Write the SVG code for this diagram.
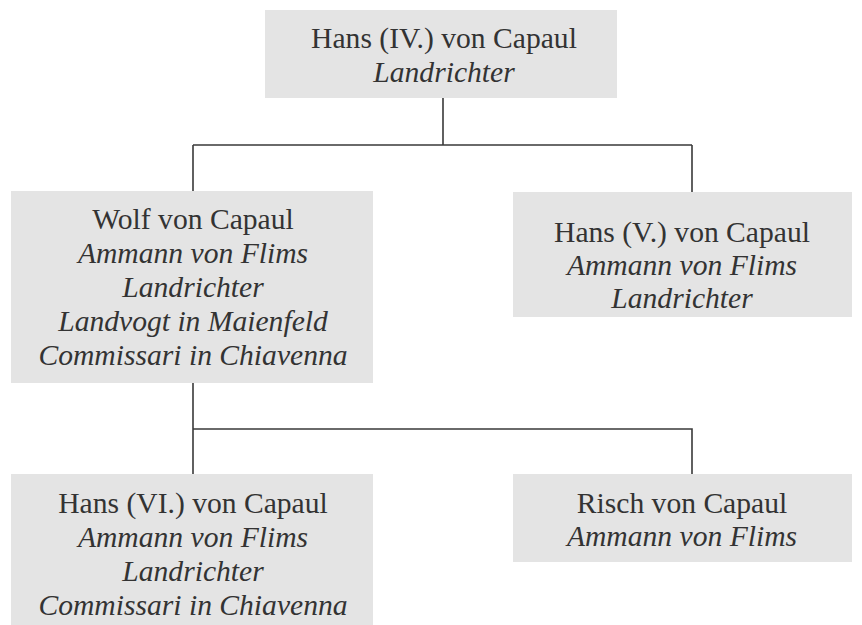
<svg xmlns="http://www.w3.org/2000/svg" width="862" height="625" viewBox="0 0 862 625">
<style>
.box{fill:#e4e4e4;}
.t{font-family:"Liberation Serif","Times New Roman",serif;font-size:29.6px;fill:#333;text-anchor:middle;}
.i{font-style:italic;}
.c{stroke:#3a3a3a;stroke-width:1.6;fill:none;}
</style>
<rect width="862" height="625" fill="#ffffff"/>
<g id="connectors">
<path class="c" d="M443 98 V145 M193 145 H692 M193 145 V191 M692 145 V192"/>
<path class="c" d="M193 383 V474 M193 429 H692 V474"/>
</g>
<g id="hans4">
<rect class="box" x="265" y="10" width="352" height="88"/>
<text class="t" x="444" y="48">Hans (IV.) von Capaul</text>
<text class="t i" x="444" y="82">Landrichter</text>
</g>
<g id="wolf">
<rect class="box" x="11" y="191" width="362" height="192"/>
<text class="t" x="193" y="229">Wolf von Capaul</text>
<text class="t i" x="193" y="263">Ammann von Flims</text>
<text class="t i" x="193" y="297">Landrichter</text>
<text class="t i" x="193" y="331">Landvogt in Maienfeld</text>
<text class="t i" x="193" y="365">Commissari in Chiavenna</text>
</g>
<g id="hans5">
<rect class="box" x="513" y="192" width="339" height="125"/>
<text class="t" x="682" y="242">Hans (V.) von Capaul</text>
<text class="t i" x="682" y="275">Ammann von Flims</text>
<text class="t i" x="682" y="308">Landrichter</text>
</g>
<g id="hans6">
<rect class="box" x="11" y="474" width="362" height="151"/>
<text class="t" x="193" y="513">Hans (VI.) von Capaul</text>
<text class="t i" x="193" y="547">Ammann von Flims</text>
<text class="t i" x="193" y="581">Landrichter</text>
<text class="t i" x="193" y="615">Commissari in Chiavenna</text>
</g>
<g id="risch">
<rect class="box" x="513" y="474" width="339" height="88"/>
<text class="t" x="682" y="513">Risch von Capaul</text>
<text class="t i" x="682" y="546">Ammann von Flims</text>
</g>
</svg>
